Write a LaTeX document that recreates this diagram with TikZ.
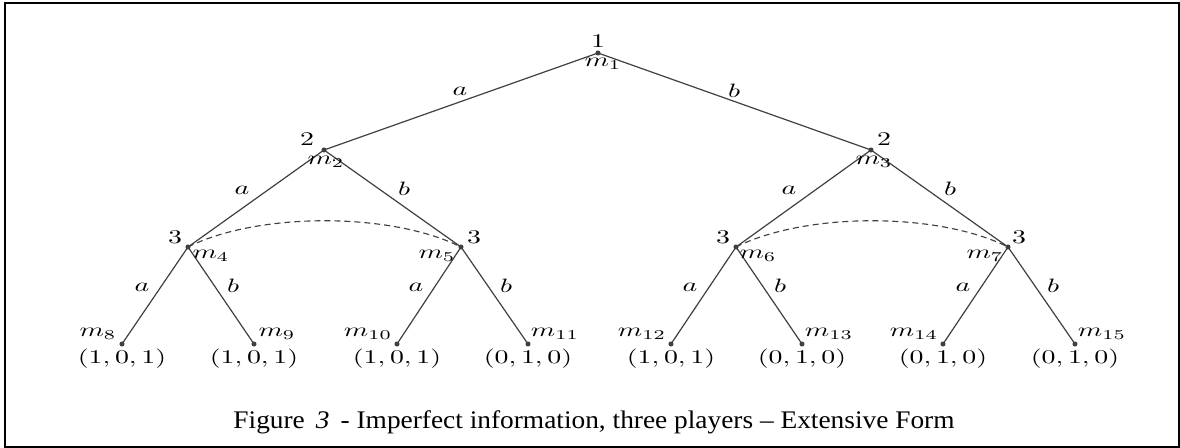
\documentclass[tikz,border=0pt]{standalone}
\usepackage[no-math]{fontspec}
\newfontfamily\capfont[Ligatures=TeX, FakeStretch=1.08]{Liberation Serif}
\usepackage{graphicx}
\newcommand{\tx}[1]{\scalebox{2.09}[1.45]{$#1$}}
\tikzset{
  dot/.style={circle, fill=black!75, inner sep=0pt, minimum size=3.8pt},
  edge/.style={draw=black!75, line width=0.9pt},
  lab/.style={inner sep=0pt},
  info/.style={draw=black!75, line width=0.85pt, dash pattern=on 4.5pt off 3pt},
  frame/.style={draw=black, line cap=rect}
}
\begin{document}
\begin{tikzpicture}[x=0.75pt, y=-0.75pt]
\useasboundingbox (0,0) rectangle (1180,448);
% frame
\coordinate (tl) at (5,3);
\coordinate (tr) at (1180,3);
\coordinate (bl) at (5,447);
\coordinate (br) at (1180,447);
\coordinate (rt) at (1179,3);
\coordinate (rb) at (1179,447);
\draw[frame, line width=2pt] (tl) -- (tr);
\draw[frame, line width=1.6pt] (tl) -- (bl);
\draw[frame, line width=1.2pt] (bl) -- (br);
\draw[frame, line width=1.2pt] (rt) -- (rb);
% decision nodes
\node[dot] (m1) at (598,53) {};
\node[dot] (m2) at (324,150) {};
\node[dot] (m3) at (871,150) {};
\node[dot] (m4) at (188,247) {};
\node[dot] (m5) at (461,247) {};
\node[dot] (m6) at (736,247) {};
\node[dot] (m7) at (1008,247) {};
\node[dot] (m8) at (122,344) {};
\node[dot] (m9) at (254,344) {};
\node[dot] (m10) at (397,344) {};
\node[dot] (m11) at (528,344) {};
\node[dot] (m12) at (671,344) {};
\node[dot] (m13) at (802,344) {};
\node[dot] (m14) at (943,344) {};
\node[dot] (m15) at (1075,344) {};
% edges
\draw[edge] (m1.center) -- (m2.center);
\draw[edge] (m1.center) -- (m3.center);
\draw[edge] (m2.center) -- (m4.center);
\draw[edge] (m2.center) -- (m5.center);
\draw[edge] (m3.center) -- (m6.center);
\draw[edge] (m3.center) -- (m7.center);
\draw[edge] (m4.center) -- (m8.center);
\draw[edge] (m4.center) -- (m9.center);
\draw[edge] (m5.center) -- (m10.center);
\draw[edge] (m5.center) -- (m11.center);
\draw[edge] (m6.center) -- (m12.center);
\draw[edge] (m6.center) -- (m13.center);
\draw[edge] (m7.center) -- (m14.center);
\draw[edge] (m7.center) -- (m15.center);
% information sets
\draw[info] (m4.center) .. controls +(70,-35) and +(-70,-35) .. (m5.center);
\draw[info] (m6.center) .. controls +(70,-35) and +(-70,-35) .. (m7.center);
% player labels
\node[lab] (p1) at (598,41) {\tx{1}};
\node[lab] (p2) at (307,139) {\tx{2}};
\node[lab] (p3) at (884,139) {\tx{2}};
\node[lab] (p4) at (175,237) {\tx{3}};
\node[lab] (p5) at (474,237) {\tx{3}};
\node[lab] (p6) at (723,237) {\tx{3}};
\node[lab] (p7) at (1019,237) {\tx{3}};
% node names
\node[lab] (n1) at (603,64) {\tx{m_1}};
\node[lab] (n2) at (326,162) {\tx{m_2}};
\node[lab] (n3) at (874,162) {\tx{m_3}};
\node[lab] (n4) at (211,256) {\tx{m_4}};
\node[lab] (n5) at (437,256) {\tx{m_5}};
\node[lab] (n6) at (758,256) {\tx{m_6}};
\node[lab] (n7) at (985,256) {\tx{m_7}};
\node[lab] (n8) at (98,334) {\tx{m_8}};
\node[lab] (n9) at (277,334) {\tx{m_9}};
\node[lab] (n10) at (368,334) {\tx{m_{10}}};
\node[lab] (n11) at (555,334) {\tx{m_{11}}};
\node[lab] (n12) at (642,334) {\tx{m_{12}}};
\node[lab] (n13) at (829,334) {\tx{m_{13}}};
\node[lab] (n14) at (914,334) {\tx{m_{14}}};
\node[lab] (n15) at (1102,334) {\tx{m_{15}}};
% action labels
\node[lab] (e12) at (460,91) {\tx{a}};
\node[lab] (e13) at (734,91) {\tx{b}};
\node[lab] (e24) at (242,190) {\tx{a}};
\node[lab] (e25) at (404,189) {\tx{b}};
\node[lab] (e36) at (789,190) {\tx{a}};
\node[lab] (e37) at (950,189) {\tx{b}};
\node[lab] (e48) at (142,287) {\tx{a}};
\node[lab] (e49) at (233,286) {\tx{b}};
\node[lab] (e510) at (416,287) {\tx{a}};
\node[lab] (e511) at (506,286) {\tx{b}};
\node[lab] (e612) at (690,287) {\tx{a}};
\node[lab] (e613) at (780,286) {\tx{b}};
\node[lab] (e714) at (963,287) {\tx{a}};
\node[lab] (e715) at (1053,286) {\tx{b}};
% payoffs
\node[lab] (u8) at (122,359) {\tx{(1,0,1)}};
\node[lab] (u9) at (254,359) {\tx{(1,0,1)}};
\node[lab] (u10) at (397,359) {\tx{(1,0,1)}};
\node[lab] (u11) at (528,359) {\tx{(0,1,0)}};
\node[lab] (u12) at (671,359) {\tx{(1,0,1)}};
\node[lab] (u13) at (802,359) {\tx{(0,1,0)}};
\node[lab] (u14) at (943,359) {\tx{(0,1,0)}};
\node[lab] (u15) at (1075,359) {\tx{(0,1,0)}};
% caption
\node[font=\capfont\fontsize{19}{22}\selectfont, inner sep=0pt, anchor=base] (cap) at (594,428)
  {Figure \,\textit{3}\, - Imperfect information, three players – Extensive Form};
\end{tikzpicture}
\end{document}
